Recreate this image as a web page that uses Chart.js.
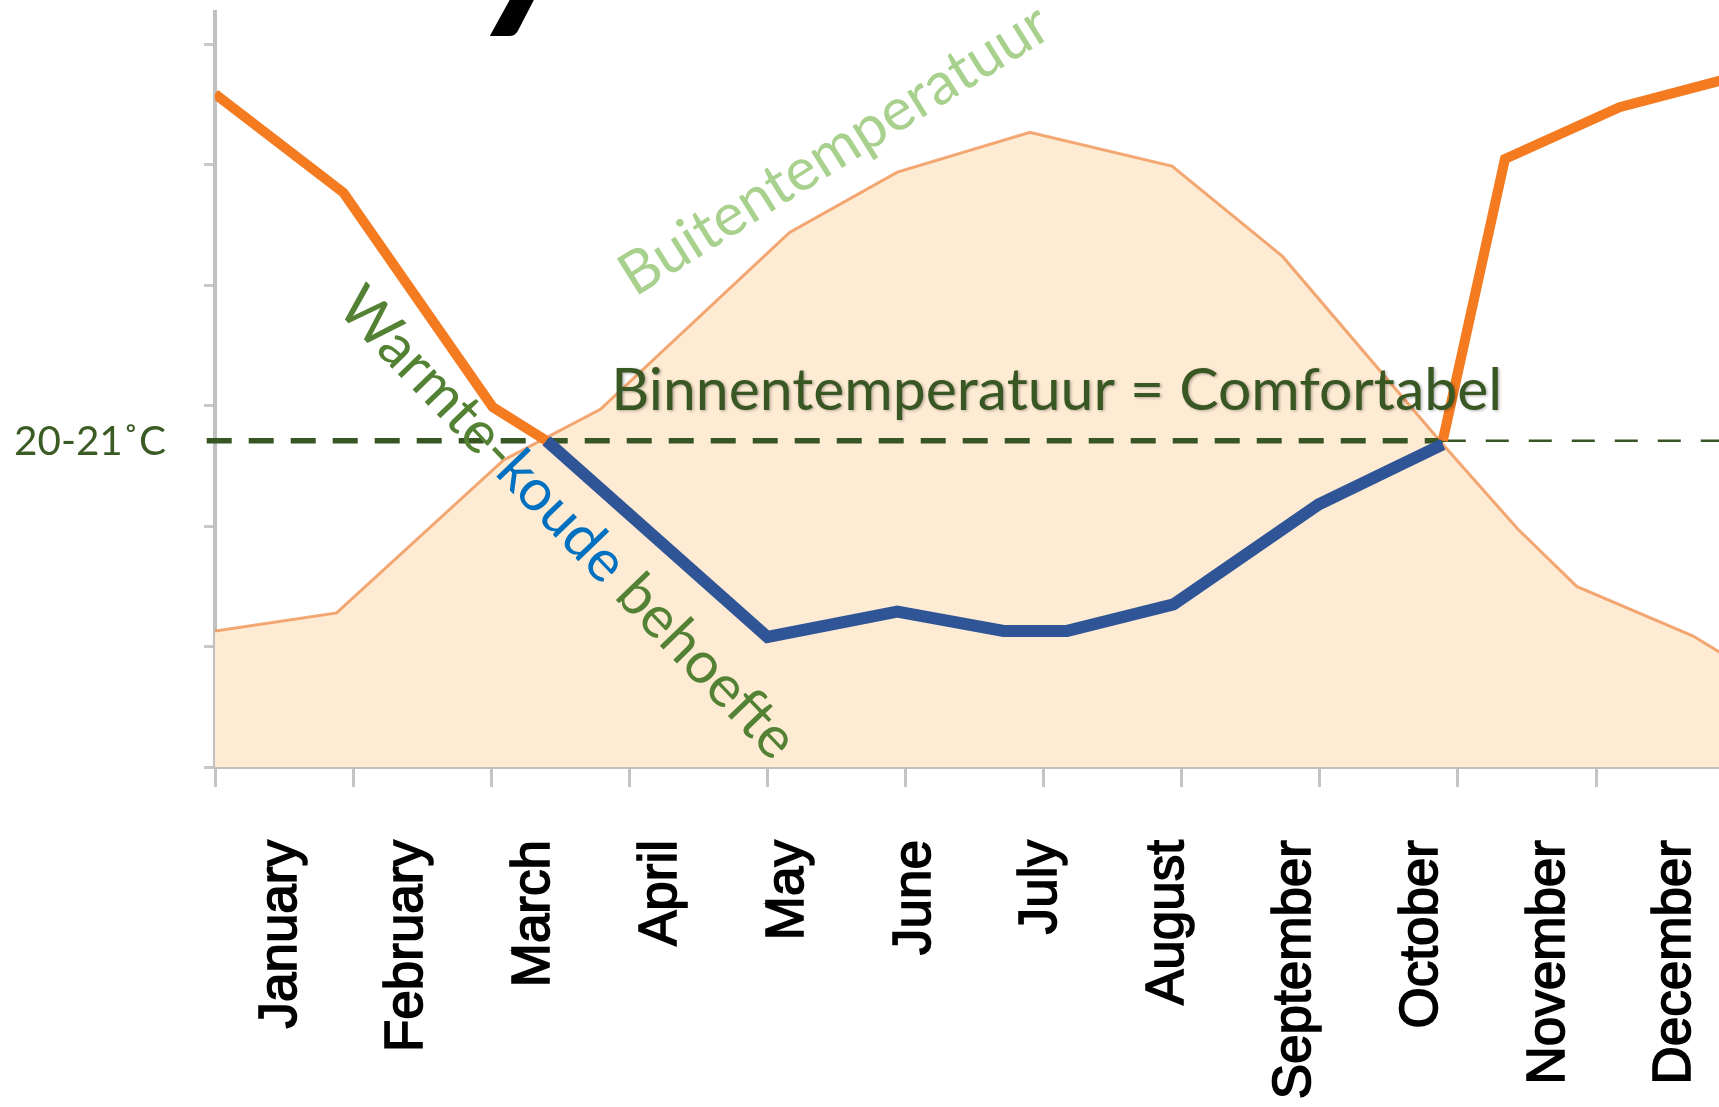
<!DOCTYPE html>
<html>
<head>
<meta charset="utf-8">
<script src="https://cdn.jsdelivr.net/npm/chart.js@4.4.1/dist/chart.umd.min.js"></script>
<style>
  html, body { margin: 0; padding: 0; background: #fff; }
  #wrap { width: 1719px; height: 1107px; position: relative; }
</style>
</head>
<body>
<div id="wrap"><canvas id="tempChart"></canvas></div>
<script>
// month labels under the axis
const months = ['January', 'February', 'March', 'April', 'May', 'June',
                'July', 'August', 'September', 'October', 'November', 'December'];
const monthTicks = [1, 2, 3, 4, 5, 6, 7, 8, 9, 10, 11, 12];
const xTicks = [0, 1, 2, 3, 4, 5, 6, 7, 8, 9, 10];
const yTicks = [0, 1, 2, 3, 4, 5, 6];

// Buitentemperatuur (peach area)
const outsideX = [0, 0.88, 2.09, 2.79, 4.16, 4.94, 5.90, 6.93, 7.73, 8.89, 9.43, 9.86, 10.70, 10.90];
const outsideY = [1.13, 1.28, 2.55, 2.97, 4.44, 4.94, 5.27, 4.99, 4.24, 2.68, 1.98, 1.50, 1.09, 0.95];

// heating demand (thick orange), gap while the blue line runs
const heatX = [0, 0.93, 2.01, 2.40, 5.5, 8.89, 9.34, 10.17, 10.90];
const heatY = [5.59, 4.77, 2.99, 2.71, null, 2.71, 5.05, 5.48, 5.70];

// cooling demand (blue)
const coolX = [2.40, 4.00, 4.94, 5.71, 6.17, 6.94, 7.99, 8.89];
const coolY = [2.71, 1.08, 1.29, 1.13, 1.13, 1.35, 2.18, 2.68];

// comfort level 20-21 C
const comfortLevel = 2.71;
const comfortX = [-0.06, 8.89, 10.90];

function pts(xs, ys) {
    return xs.map((x, i) => ({ x: x, y: ys[i] }));
}

function fitSize(ctx, text, width, family) {
    ctx.font = '100px ' + family;
    return 100 * width / ctx.measureText(text).width;
}

// chart.js reserves room for the outer labels; the picture runs edge to edge
function noPad(scale) {
    scale.paddingLeft = 0;
    scale.paddingRight = 0;
    scale.paddingTop = 0;
    scale.paddingBottom = 0;
}

const annotations = {
    id: 'annotations',
    afterDatasetsDraw(chart) {
        const ctx = chart.ctx;
        const x = chart.scales.x, y = chart.scales.y;
        const comfortPx = y.getPixelForValue(comfortLevel);
        const fam = 'Lato, "Open Sans", sans-serif';
        ctx.save();

        // 20-21˚C label left of the axis
        let s = fitSize(ctx, '20-21˚C', 152, fam);
        ctx.font = s + 'px ' + fam;
        ctx.fillStyle = '#3b5b24';
        ctx.textBaseline = 'alphabetic';
        ctx.fillText('20-21˚C', 14, comfortPx + 14);

        // Binnentemperatuur = Comfortabel
        const binnen = 'Binnentemperatuur = Comfortabel';
        s = fitSize(ctx, binnen, 891, fam);
        ctx.font = s + 'px ' + fam;
        ctx.shadowColor = 'rgba(0,0,0,0.3)';
        ctx.shadowBlur = 3;
        ctx.shadowOffsetX = 1.5;
        ctx.shadowOffsetY = 1.5;
        ctx.fillStyle = '#385723';
        ctx.fillText(binnen, x.getPixelForValue(2.87), comfortPx - 31);
        ctx.shadowColor = 'transparent';

        // Buitentemperatuur along the area
        const buiten = 'Buitentemperatuur';
        s = fitSize(ctx, buiten, 495, fam);
        ctx.save();
        ctx.translate(x.getPixelForValue(3.04), y.getPixelForValue(3.90));
        ctx.rotate(-32 * Math.PI / 180);
        ctx.font = s + 'px ' + fam;
        ctx.fillStyle = '#a9d18e';
        ctx.fillText(buiten, 0, 0);
        ctx.restore();

        // Warmte-koude behoefte, three colours
        const parts = [['Warmte-', '#548235'], ['koude', '#0070c0'], [' behoefte', '#548235']];
        s = fitSize(ctx, parts.map(p => p[0]).join(''), 630, fam);
        ctx.save();
        ctx.translate(x.getPixelForValue(0.87), y.getPixelForValue(3.80));
        ctx.rotate(46 * Math.PI / 180);
        ctx.font = s + 'px ' + fam;
        let off = 0;
        parts.forEach(p => {
            ctx.fillStyle = p[1];
            ctx.fillText(p[0], off, 0);
            off += ctx.measureText(p[0]).width;
        });
        ctx.restore();

        // tail of the cut-off slide title
        ctx.font = 'italic bold 215px Lato, sans-serif';
        ctx.fillStyle = '#000';
        ctx.fillText('y', 480, 0);

        ctx.restore();
    }
};

new Chart(document.getElementById('tempChart').getContext('2d'), {
    type: 'line',
    data: {
        datasets: [
            {
                label: 'Koude behoefte',
                data: pts(coolX, coolY),
                borderColor: '#2f5597',
                borderWidth: 12,
                pointRadius: 0,
                fill: false,
                order: 0
            },
            {
                label: 'Warmte behoefte',
                data: pts(heatX, heatY),
                borderColor: '#f47b20',
                borderWidth: 10,
                pointRadius: 0,
                spanGaps: false,
                fill: false,
                order: 1
            },
            {
                label: 'Comfort',
                data: pts(comfortX.slice(0, 2), [comfortLevel, comfortLevel]),
                borderColor: '#375623',
                borderWidth: 5.5,
                borderDash: [25, 17],
                pointRadius: 0,
                fill: false,
                clip: false,
                order: 2
            },
            {
                label: 'Comfort (vervolg)',
                data: pts(comfortX.slice(1), [comfortLevel, comfortLevel]),
                borderColor: '#375623',
                borderWidth: 2.5,
                borderDash: [23, 20],
                pointRadius: 0,
                fill: false,
                order: 3
            },
            {
                label: 'Buitentemperatuur',
                data: pts(outsideX, outsideY),
                borderColor: 'rgba(237,125,49,0.65)',
                borderWidth: 3,
                backgroundColor: '#feebd4',
                pointRadius: 0,
                fill: 'origin',
                order: 4
            }
        ]
    },
    options: {
        responsive: true,
        maintainAspectRatio: false,
        animation: false,
        layout: {
            padding: { top: 12, left: 0, right: 0, bottom: 0 }
        },
        plugins: {
            legend: { display: false },
            tooltip: { enabled: false },
            title: { display: false }
        },
        scales: {
            x: {
                type: 'linear',
                position: 'bottom',
                min: 0,
                max: 10.89,
                weight: 0,
                afterBuildTicks: function(axis) {
                    axis.ticks = xTicks.map(v => ({ value: v }));
                },
                afterFit: function(scale) { scale.height = 20; noPad(scale); },
                ticks: { display: false },
                grid: {
                    drawOnChartArea: false,
                    drawTicks: true,
                    tickLength: 20,
                    tickColor: '#c4c4c4',
                    tickWidth: 3
                },
                border: { color: '#c0c0c0', width: 4 }
            },
            month: {
                type: 'linear',
                axis: 'x',
                position: 'bottom',
                min: 0.48,
                max: 12.34,
                weight: 1,
                afterBuildTicks: function(axis) {
                    axis.ticks = monthTicks.map(v => ({ value: v }));
                },
                afterFit: function(scale) { scale.height = 320; noPad(scale); },
                ticks: {
                    autoSkip: false,
                    minRotation: 90,
                    maxRotation: 90,
                    padding: 53,
                    color: '#000',
                    textStrokeColor: '#000',
                    textStrokeWidth: 1.6,
                    font: { size: 53, family: "'Liberation Sans', Arial, sans-serif" },
                    callback: function(value) { return months[value - 1]; }
                },
                grid: { display: false, drawTicks: false },
                border: { display: false }
            },
            y: {
                type: 'linear',
                min: 0,
                max: 6.27,
                afterBuildTicks: function(axis) {
                    axis.ticks = yTicks.map(v => ({ value: v }));
                },
                afterFit: function(scale) { scale.width = 215; noPad(scale); },
                ticks: { display: false },
                grid: {
                    drawOnChartArea: false,
                    drawTicks: true,
                    tickLength: 11,
                    tickColor: '#c8c8c8',
                    tickWidth: 3
                },
                border: { color: '#c0c0c0', width: 4 }
            }
        }
    },
    plugins: [annotations]
});
</script>
</body>
</html>
